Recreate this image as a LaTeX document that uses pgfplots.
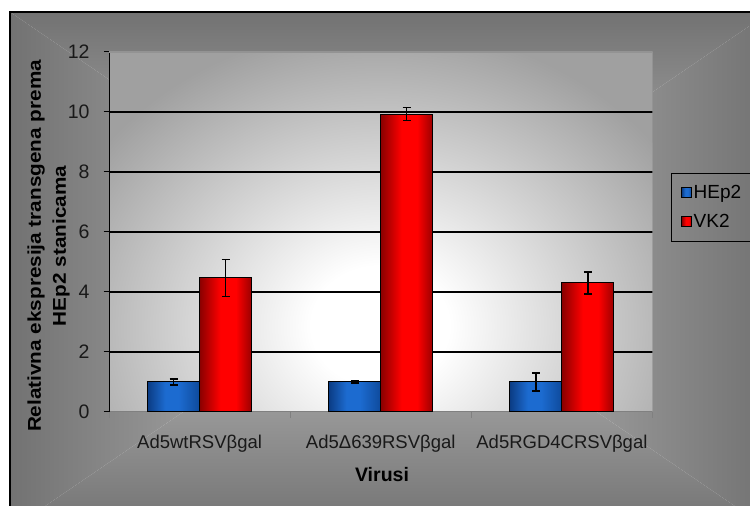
\documentclass[border=0pt]{standalone}
\usepackage{pgfplots}
\pgfplotsset{compat=1.18}
\usepackage{fontspec}
\setmainfont{Liberation Sans}
\newfontfamily\ylabfont[FakeStretch=1.12]{Liberation Sans}

\definecolor{bL}{HTML}{0B3C84}
\definecolor{bM}{HTML}{1C6BD0}
\definecolor{bR}{HTML}{0E4A9C}
\definecolor{rL}{HTML}{8A0000}
\definecolor{rM}{HTML}{FF0000}
\definecolor{rR}{HTML}{9A0000}
\definecolor{cIn}{HTML}{C4C4C4}
\definecolor{cOut}{HTML}{727272}
\definecolor{pOut}{HTML}{A0A0A0}

\pgfdeclarehorizontalshading{bluebar}{100bp}{color(0bp)=(bL); color(25bp)=(bL); color(42bp)=(bM); color(55bp)=(bM); color(75bp)=(bR); color(100bp)=(bR)}
\pgfdeclarehorizontalshading{redbar}{100bp}{color(0bp)=(rL); color(25bp)=(rL); color(45bp)=(rM); color(60bp)=(rM); color(75bp)=(rR); color(100bp)=(rR)}
\pgfdeclareradialshading{plotbg}{\pgfpoint{0bp}{0bp}}{color(0bp)=(white); color(5bp)=(white); color(25bp)=(pOut); color(50bp)=(pOut)}

\newcommand{\boxgrad}[8]{%
 \begin{scope}\clip (#1,#2)--(#3,#2)--(#5,#6)--cycle;
   \shade[bottom color=#8, top color=#7] (#1,#2) rectangle (#3,#6);\end{scope}
 \begin{scope}\clip (#1,#4)--(#3,#4)--(#5,#6)--cycle;
   \shade[bottom color=#7, top color=#8] (#1,#6) rectangle (#3,#4);\end{scope}
 \begin{scope}\clip (#1,#2)--(#1,#4)--(#5,#6)--cycle;
   \shade[left color=#8, right color=#7] (#1,#2) rectangle (#5,#4);\end{scope}
 \begin{scope}\clip (#3,#2)--(#3,#4)--(#5,#6)--cycle;
   \shade[left color=#7, right color=#8] (#5,#2) rectangle (#3,#4);\end{scope}}

\pgfplotsset{
  hep/.style={ybar, bar width=52bp, bar shift=0pt, draw=black, line width=1bp, shade, shading=bluebar},
  vk/.style={ybar, bar width=52bp, bar shift=0pt, draw=black, line width=1bp, shade, shading=redbar},
}

\begin{document}
\begin{tikzpicture}
\begin{scope}[x=1bp,y=1bp]
\useasboundingbox (0,0) rectangle (750,506);
\fill[white] (0,0) rectangle (750,506);
\end{scope}
\clip (0,0) rectangle (750bp,506bp);
\begin{scope}[x=1bp,y=1bp]
\boxgrad{10}{-24}{770}{494}{390}{235}{cIn}{cOut}
\draw[black, line width=1.2bp] (10,-30) -- (10,494) -- (780,494);
\begin{scope}
\clip (109,94) rectangle (652.5,454);
\fill[pOut] (109,94) rectangle (652.5,454);
\shade[shading=plotbg] (380,180) ellipse (345 and 300);
\end{scope}
\end{scope}
\begin{axis}[
  at={(109bp,94bp)}, anchor=south west,
  width=543.5bp, height=360bp, scale only axis,
  xmin=-0.5, xmax=2.5, ymin=0, ymax=12,
  axis x line*=bottom, axis y line*=left,
  x axis line style={-, draw=gray, line width=1bp},
  y axis line style={-, draw=black, line width=1bp},
  xtick={0,1,2},
  xticklabels={Ad5wtRSVβgal, Ad5Δ639RSVβgal, Ad5RGD4CRSVβgal},
  xtick style={draw=none},
  x tick label style={yshift=-15bp, font=\fontsize{18.5bp}{21bp}\selectfont},
  extra x ticks={-0.5,0.5,1.5,2.5},
  extra x tick labels={},
  extra x tick style={xtick style={draw=gray, line width=1bp}, major tick length=6bp},
  ytick={0,2,...,12},
  ytick style={draw=black, line width=1bp},
  major tick length=5bp,
  tick align=outside,
  extra y ticks={2,4,6,8,10},
  extra y tick labels={},
  extra y tick style={ymajorgrids=true, major grid style={black, line width=1.2bp}},
  y tick label style={xshift=-11bp, font=\fontsize{19.5bp}{22bp}\selectfont},
  tick label style={text=black!90},
  /pgf/number format/assume math mode=true,
  ylabel={Relativna ekspresija transgena prema\\HEp2 stanicama},
  ylabel style={align=center, font=\ylabfont\bfseries\fontsize{18.5bp}{25bp}\selectfont,
    at={(axis description cs:-0.1113,0.4611)}, anchor=center},
  xlabel={Virusi},
  xlabel style={font=\bfseries\fontsize{19.5bp}{22bp}\selectfont,
    at={(axis description cs:0.5023,-0.175)}, anchor=center},
  legend style={at={(1.034,0.6639)}, anchor=north west, draw=black, fill=none,
    line width=0.8bp, font=\fontsize{19bp}{21bp}\selectfont,
    inner xsep=10bp, inner ysep=12bp, row sep=14bp, nodes={inner xsep=1.5bp, inner ysep=0pt}},
  legend cell align=left,
  legend image code/.code={\draw[#1, draw=black, line width=0.8bp] (0bp,-5bp) rectangle (10bp,5bp);},
  error bars/y dir=both, error bars/y explicit,
  error bars/error bar style={black, line width=1.3bp},
  error bars/error mark options={rotate=90, mark size=4bp, black, line width=1.3bp},
]
% one plot per bar, so that each bar carries its own gradient;
% bars sit 0.1435 category units (26bp) left/right of each category centre
\addplot[hep] coordinates {(-0.1435,1.00) +- (0,0.10)};
\addplot[vk]  coordinates {(0.1435,4.47) +- (0,0.62)};
\addplot[hep, forget plot] coordinates {(0.8565,1.00) +- (0,0.03)};
\addplot[hep, forget plot] coordinates {(1.8565,1.00) +- (0,0.30)};
\addplot[vk, forget plot]  coordinates {(1.1435,9.93) +- (0,0.22)};
\addplot[vk, forget plot]  coordinates {(2.1435,4.30) +- (0,0.37)};
\legend{HEp2, VK2}
\draw[draw=gray!85, line width=1.5bp] (rel axis cs:0,1) -- (rel axis cs:1,1) -- (rel axis cs:1,0);
\end{axis}
\end{tikzpicture}
\end{document}
